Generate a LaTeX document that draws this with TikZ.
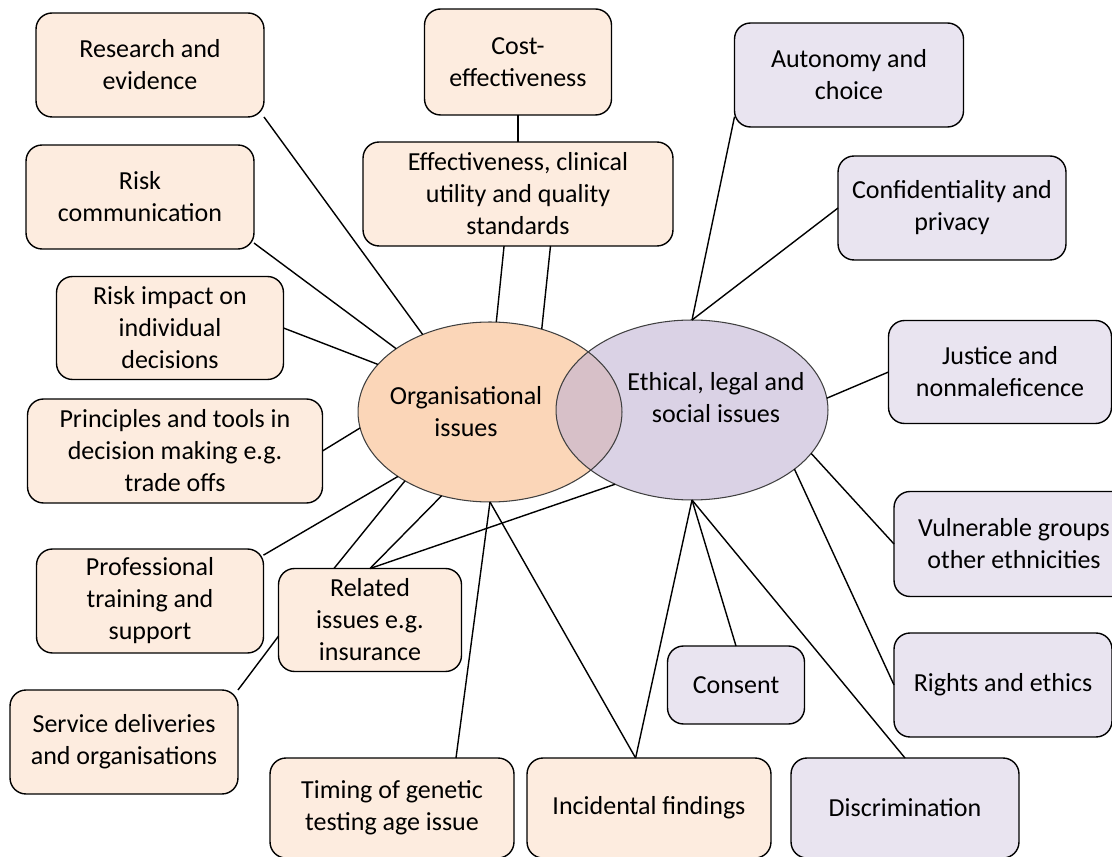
\documentclass[tikz,border=0pt]{standalone}
\usepackage{fontspec}
\setmainfont{Carlito}
\usetikzlibrary{shapes.geometric}

\definecolor{orgbox}{HTML}{FDECDF}
\definecolor{orgell}{HTML}{FBD6B8}
\definecolor{ethbox}{HTML}{E9E4F0}
\definecolor{ethell}{HTML}{DAD2E5}
\definecolor{bothell}{HTML}{D7C0C8}

\begin{document}
\begin{tikzpicture}[x=0.02cm,y=-0.02cm,
    every node/.style={font=\fontsize{14.8}{18.2}\selectfont, align=center},
    obox/.style={draw, line width=0.8pt, rounded corners=0.32cm, fill=orgbox,
      minimum height=2.08cm, inner sep=0pt, outer sep=0pt},
    ebox/.style={obox, fill=ethbox},
    bigell/.style={ellipse, inner sep=0pt, outer sep=0pt, minimum height=3.6cm},
    ellline/.style={line width=0.6pt, black!75},
    link/.style={line width=0.8pt}]
    \clip (0,0) rectangle (1112,857);
    % the two issue groups
    \node[bigell, fill=orgell, minimum width=5.28cm] (org) at (490,412) {};
    \node[bigell, fill=ethell, minimum width=5.44cm] (eth) at (692,410) {};
    \begin{scope}
      \clip (org.center) ellipse [x radius=2.64cm, y radius=1.8cm];
      \fill[bothell] (eth.center) ellipse [x radius=2.72cm, y radius=1.8cm];
    \end{scope}
    \draw[ellline] (org.center) ellipse [x radius=2.64cm, y radius=1.8cm];
    \draw[ellline] (eth.center) ellipse [x radius=2.72cm, y radius=1.8cm];
    \node (orgtxt) at (466,412) {Organisational\\issues};
    \node (ethtxt) at (716,398) {Ethical, legal and\\social issues};
    % organisational boxes
    \node[obox, minimum width=4.56cm] (res) at (150,65) {Research and\\evidence};
    \node[obox, minimum width=4.56cm] (riskc) at (140,197) {Risk\\communication};
    \node[obox, minimum width=4.54cm, minimum height=2.06cm] (riski) at (170,328) {Risk impact on\\individual\\decisions};
    \node[obox, minimum width=5.9cm] (princ) at (175,451) {Principles and tools in\\decision making e.g.\\trade offs};
    \node[obox, minimum width=4.54cm] (prof) at (150,601) {Professional\\training and\\support};
    \node[obox, minimum width=3.66cm, minimum height=2.06cm] (rel) at (370,620) {Related\\issues e.g.\\insurance};
    \node[obox, minimum width=4.56cm] (serv) at (124,742) {Service deliveries\\and organisations};
    \node[obox, minimum width=4.88cm, minimum height=2.0cm] (timing) at (392,808) {Timing of genetic\\testing age issue};
    \node[obox, minimum width=4.88cm, minimum height=2.0cm] (incid) at (649,808) {Incidental findings};
    \node[obox, minimum width=3.74cm, minimum height=2.12cm] (cost) at (518,62) {Cost-\\effectiveness};
    \node[obox, minimum width=6.2cm] (eff) at (518,194) {Effectiveness, clinical\\utility and quality\\standards};
    % ethical boxes
    \node[ebox, minimum width=4.58cm] (auto) at (849,75) {Autonomy and\\choice};
    \node[ebox, minimum width=4.56cm] (conf) at (952,208) {Confidentiality and\\privacy};
    \node[ebox, minimum width=4.46cm, minimum height=2.06cm] (just) at (1000,372) {Justice and\\nonmaleficence};
    \node[ebox, minimum width=4.8cm, minimum height=2.1cm] (vuln) at (1014,544) {Vulnerable groups\\other ethnicities};
    \node[ebox, minimum width=4.36cm] (rights) at (1003,685) {Rights and ethics};
    \node[ebox, minimum width=2.74cm, minimum height=1.56cm] (cons) at (736,685) {Consent};
    \node[ebox, minimum width=4.56cm, minimum height=2.0cm] (discr) at (905,808) {Discrimination};
    % links to organisational issues
    \draw[link] (res.south east) -- (org.131);
    \draw[link] (riskc.-22) -- (org.146);
    \draw[link] (riski.east) -- (org.157);
    \draw[link] (princ.east) -- (org.187);
    \draw[link] (prof.22) -- (org.215);
    \draw[link] (rel.125) -- (org.219);
    \draw[link] (rel.north) -- (org.240);
    \draw[link] (rel.north) -- (eth.224);
    \draw[link] (serv.north east) -- (rel.190);
    \draw[link] (timing.38) -- (org.270);
    \draw[link] (incid.105) -- (org.270);
    \draw[link] (cost.south) -- (eff.north);
    \draw[link] (eff.255) -- (org.86);
    \draw[link] (eff.-58) -- (org.58);
    % links to ethical issues
    \draw[link] (auto.200) -- (eth.90);
    \draw[link] (conf.west) -- (eth.90);
    \draw[link] (just.west) -- (eth.5);
    \draw[link] (vuln.west) -- (eth.-20);
    \draw[link] (rights.west) -- (eth.-30);
    \draw[link] (discr.north) -- (eth.270);
    \draw[link] (cons.north) -- (eth.270);
    \draw[link] (incid.105) -- (eth.270);
  \end{tikzpicture}
\end{document}
